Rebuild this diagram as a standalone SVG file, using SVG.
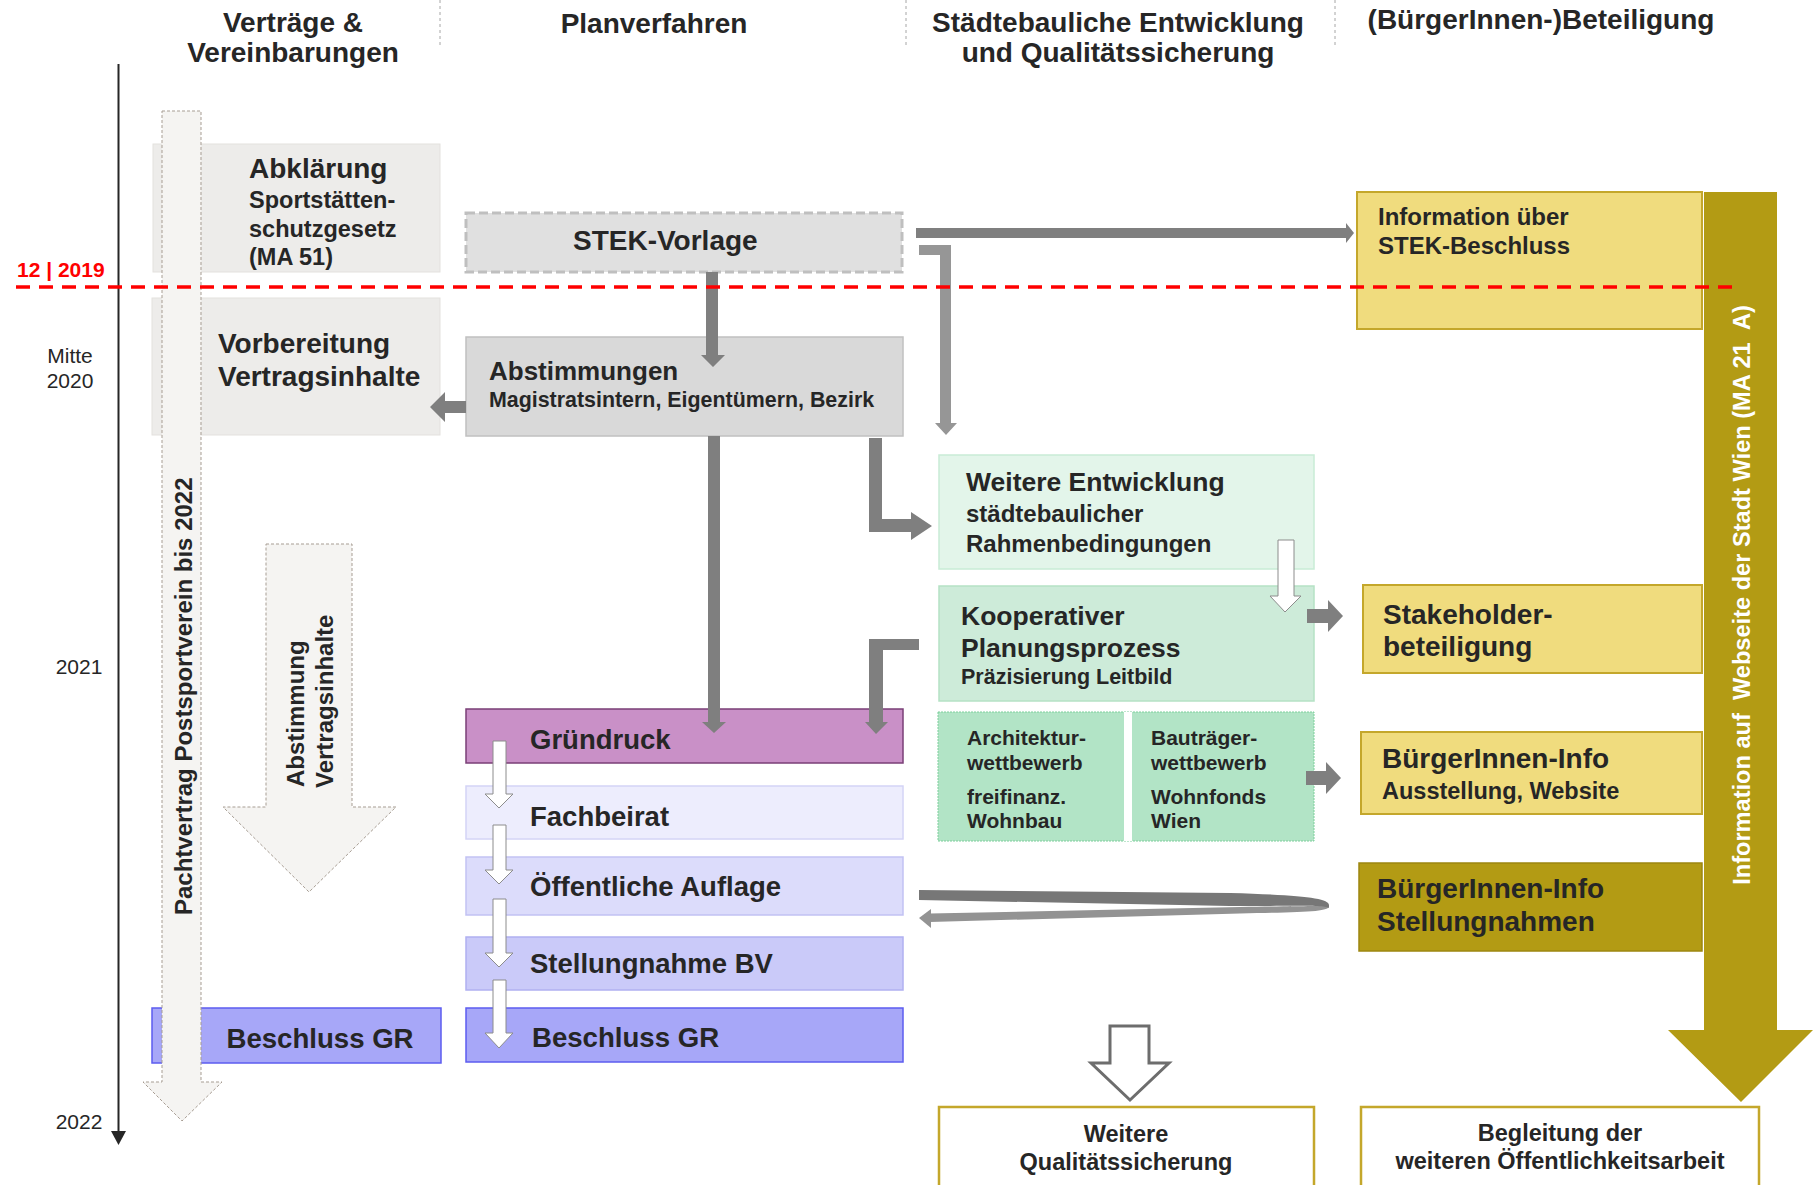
<svg xmlns="http://www.w3.org/2000/svg" width="1816" height="1185" viewBox="0 0 1816 1185">
<style>
text{font-family:"Liberation Sans",Arial,sans-serif;fill:#262626}
.b{font-weight:bold}
.h{font-weight:bold;font-size:28px;text-anchor:middle}
.yr{font-size:21px;text-anchor:middle}
.div{stroke:#a6a6a6;stroke-width:1;stroke-dasharray:3 3;fill:none}
.ar{fill:#7f7f7f}
.arl{fill:#969696}
.hol{fill:#fff;stroke:#8c8c8c;stroke-width:1}
.dot{fill:#f5f4f2;stroke:#a79d93;stroke-width:1;stroke-dasharray:3 2}
.gray{fill:#edecea;stroke:#e3e1de;stroke-width:1}
.yel{fill:#f0dc7e;stroke:#c4a72b;stroke-width:2}
.out{fill:#fff;stroke:#c4a72b;stroke-width:2.5}
</style>

<g id="headers">
<line class="div" x1="440" y1="0" x2="440" y2="48"/>
<line class="div" x1="906" y1="0" x2="906" y2="48"/>
<line class="div" x1="1335" y1="0" x2="1335" y2="48"/>
<text class="h" x="293" y="32">Verträge &amp;</text>
<text class="h" x="293" y="62">Vereinbarungen</text>
<text class="h" x="654" y="33">Planverfahren</text>
<text class="h" x="1118" y="32">Städtebauliche Entwicklung</text>
<text class="h" x="1118" y="62">und Qualitätssicherung</text>
<text class="h" x="1541" y="29">(BürgerInnen-)Beteiligung</text>
</g>

<g id="timeline">
<line x1="118.5" y1="64" x2="118.5" y2="1133" stroke="#262626" stroke-width="2"/>
<polygon points="111,1131 126,1131 118.5,1145" fill="#262626"/>
<text class="yr" x="70" y="363">Mitte</text>
<text class="yr" x="70" y="388">2020</text>
<text class="yr" x="79" y="674">2021</text>
<text class="yr" x="79" y="1129">2022</text>
</g>

<g id="abklaerung">
<rect class="gray" x="153" y="144" width="287" height="128"/>
<text class="b" x="249" y="178" font-size="28">Abklärung</text>
<text class="b" x="249" y="208" font-size="23.5">Sportstätten-</text>
<text class="b" x="249" y="237" font-size="23.5">schutzgesetz</text>
<text class="b" x="249" y="265" font-size="23.5">(MA 51)</text>
</g>

<g id="vorbereitung">
<rect class="gray" x="152" y="298" width="288" height="137"/>
<text class="b" x="218" y="353" font-size="28">Vorbereitung</text>
<text class="b" x="218" y="386" font-size="28">Vertragsinhalte</text>
</g>

<g id="beschluss-gr-links">
<rect x="152" y="1008" width="289" height="55" fill="#a7a7f8" stroke="#5c5cf0" stroke-width="1.5"/>
<text class="b" x="320" y="1048" font-size="27.6" text-anchor="middle">Beschluss GR</text>
</g>

<g id="pachtvertrag">
<polygon class="dot" points="162,111 201,111 201,1082 222,1082 182,1121 143,1082 162,1082"/>
<text class="b" font-size="24" transform="translate(192,915) rotate(-90)">Pachtvertrag Postsportverein bis 2022</text>
</g>

<g id="abstimmung-vertragsinhalte">
<polygon class="dot" points="266,544 352,544 352,807 396,807 309,892 223,807 266,807"/>
<text class="b" font-size="24" transform="translate(304,787) rotate(-90)">Abstimmung</text>
<text class="b" font-size="24" transform="translate(333,788) rotate(-90)">Vertragsinhalte</text>
</g>

<g id="stek-vorlage">
<rect x="466" y="213" width="436" height="59" fill="#e0e0e0" stroke="#bfbfbf" stroke-width="3" stroke-dasharray="9 4"/>
<text class="b" x="573" y="250" font-size="28">STEK-Vorlage</text>
</g>

<g id="abstimmungen">
<rect x="466" y="337" width="437" height="99" fill="#d9d9d9" stroke="#c0c0c0" stroke-width="1.5"/>
<text class="b" x="489" y="380" font-size="26">Abstimmungen</text>
<text class="b" x="489" y="407" font-size="21.4">Magistratsintern, Eigentümern, Bezirk</text>
</g>

<g id="gruendruck">
<rect x="466" y="709" width="437" height="54" fill="#c990c7" stroke="#7a3f77" stroke-width="1.5"/>
<text class="b" x="530" y="749" font-size="27.5">Gründruck</text>
</g>
<g id="fachbeirat">
<rect x="466" y="786" width="437" height="53" fill="#ededfd" stroke="#d4d4f6" stroke-width="1.5"/>
<text class="b" x="530" y="826" font-size="27.5">Fachbeirat</text>
</g>
<g id="oeffentliche-auflage">
<rect x="466" y="857" width="437" height="58" fill="#dcdcfb" stroke="#c2c2f3" stroke-width="1.5"/>
<text class="b" x="530" y="896" font-size="27.5">Öffentliche Auflage</text>
</g>
<g id="stellungnahme-bv">
<rect x="466" y="937" width="437" height="53" fill="#cacaf9" stroke="#b0b0f1" stroke-width="1.5"/>
<text class="b" x="530" y="973" font-size="27.5">Stellungnahme BV</text>
</g>
<g id="beschluss-gr-rechts">
<rect x="466" y="1008" width="437" height="54" fill="#a7a7f8" stroke="#5c5cf0" stroke-width="1.5"/>
<text class="b" x="532" y="1047" font-size="27.6">Beschluss GR</text>
</g>

<g id="weitere-entwicklung">
<rect x="939" y="455" width="375" height="114" fill="#e3f5ea" stroke="#c9ecd6" stroke-width="1.5"/>
<text class="b" x="966" y="491" font-size="26.5">Weitere Entwicklung</text>
<text class="b" x="966" y="522" font-size="24">städtebaulicher</text>
<text class="b" x="966" y="552" font-size="24">Rahmenbedingungen</text>
</g>

<g id="kooperativer-planungsprozess">
<rect x="939" y="586" width="375" height="115" fill="#cdebd9" stroke="#b5e2c5" stroke-width="1.5"/>
<text class="b" x="961" y="625" font-size="26.5">Kooperativer</text>
<text class="b" x="961" y="657" font-size="26.5">Planungsprozess</text>
<text class="b" x="961" y="684" font-size="21.5">Präzisierung Leitbild</text>
</g>

<g id="wettbewerbe">
<rect x="938" y="712" width="376" height="129" fill="#b2e4c6" stroke="#7ccf9b" stroke-width="1" stroke-dasharray="2 1"/>
<rect x="1124" y="712" width="8" height="129" fill="#fff"/>
<text class="b" x="967" y="745" font-size="21">Architektur-</text>
<text class="b" x="967" y="770" font-size="21">wettbewerb</text>
<text class="b" x="967" y="804" font-size="21">freifinanz.</text>
<text class="b" x="967" y="828" font-size="21">Wohnbau</text>
<text class="b" x="1151" y="745" font-size="21">Bauträger-</text>
<text class="b" x="1151" y="770" font-size="21">wettbewerb</text>
<text class="b" x="1151" y="804" font-size="21">Wohnfonds</text>
<text class="b" x="1151" y="828" font-size="21">Wien</text>
</g>

<g id="weitere-qualitaetssicherung">
<rect class="out" x="939" y="1107" width="375" height="85"/>
<text class="b" x="1126" y="1142" font-size="23.5" text-anchor="middle">Weitere</text>
<text class="b" x="1126" y="1170" font-size="23.5" text-anchor="middle">Qualitätssicherung</text>
</g>

<g id="information-webseite">
<polygon points="1704,192 1777,192 1777,1030 1813,1030 1741,1102 1668,1030 1704,1030" fill="#b39b14"/>
<text class="b" font-size="23.6" text-anchor="middle" style="fill:#fff;white-space:pre" transform="translate(1750,595) rotate(-90)">Information auf  Webseite der Stadt Wien (MA 21  A)</text>
</g>

<g id="information-stek">
<rect class="yel" x="1357" y="192" width="345" height="137"/>
<text class="b" x="1378" y="225" font-size="24">Information über</text>
<text class="b" x="1378" y="254" font-size="24">STEK-Beschluss</text>
</g>

<g id="stakeholderbeteiligung">
<rect class="yel" x="1363" y="585" width="339" height="88"/>
<text class="b" x="1383" y="624" font-size="28">Stakeholder-</text>
<text class="b" x="1383" y="656" font-size="28">beteiligung</text>
</g>

<g id="buergerinnen-info-ausstellung">
<rect class="yel" x="1361" y="732" width="341" height="82"/>
<text class="b" x="1382" y="768" font-size="28">BürgerInnen-Info</text>
<text class="b" x="1382" y="799" font-size="23.5">Ausstellung, Website</text>
</g>

<g id="buergerinnen-info-stellungnahmen">
<rect x="1359" y="863" width="343" height="88" fill="#b39b14" stroke="#9d8711" stroke-width="1.5"/>
<text class="b" x="1377" y="898" font-size="28">BürgerInnen-Info</text>
<text class="b" x="1377" y="931" font-size="28">Stellungnahmen</text>
</g>

<g id="begleitung">
<rect class="out" x="1361" y="1107" width="398" height="85"/>
<text class="b" x="1560" y="1141" font-size="23.5" text-anchor="middle">Begleitung der</text>
<text class="b" x="1560" y="1169" font-size="23.5" text-anchor="middle">weiteren Öffentlichkeitsarbeit</text>
</g>

<g id="connectors">
<polygon class="ar" points="706,272 718,272 718,355 725,355 713,367 701,355 706,355"/>
<polygon class="ar" points="916,228 1346,228 1346,223 1354,233 1346,243 1346,238 916,238"/>
<polygon class="arl" points="919,245 951,245 951,423 957,423 946,435 935,423 940,423 940,255 919,255"/>
<polygon class="ar" points="466,401 466,413 445,413 445,422 430,407 445,392 445,401"/>
<polygon class="ar" points="869,438 882,438 882,519 911,519 911,512 932,526 911,540 911,532 869,532"/>
<polygon class="ar" points="708,436 720,436 720,722 726,722 714,733 702,722 708,722"/>
<polygon class="ar" points="919,639 919,650 883,650 883,722 888,722 876,734 865,722 869,722 869,639"/>
<polygon class="hol" points="1278,540 1294,540 1294,596 1301,596 1285,612 1270,596 1278,596"/>
<polygon class="ar" points="1307,609 1328,609 1328,600 1343,616 1328,632 1328,623 1307,623"/>
<polygon class="ar" points="1306,771 1326,771 1326,762 1341,778 1326,794 1326,785 1306,785"/>
<polygon class="hol" points="493,741 506,741 506,794 513,794 499,808 485,794 493,794"/>
<polygon class="hol" points="493,825 506,825 506,870 513,870 499,884 485,870 493,870"/>
<polygon class="hol" points="493,899 506,899 506,953 513,953 499,967 485,953 493,953"/>
<polygon class="hol" points="493,980 506,980 506,1033 513,1033 499,1048 485,1033 493,1033"/>
<path d="M1329,906 C1329,912 1305,912 1240,913.5 L930,922 L930,913.5 L1240,907 C1300,906 1322,906 1329,906 Z" fill="#939393"/>
<polygon points="931,909 919,918 931,928" fill="#939393"/>
<path d="M919,890 L1230,893 C1300,895 1329,898 1329,905 L1329,908 C1322,905 1300,906 1230,906 L919,900 Z" fill="#777"/>
<polygon points="1110,1026 1149,1026 1149,1063 1169,1063 1130,1100 1091,1063 1110,1063" fill="#fff" stroke="#6d6d6d" stroke-width="3"/>
</g>

<g id="marker-12-2019">
<line x1="16" y1="287" x2="1733" y2="287" stroke="#ff0000" stroke-width="3.5" stroke-dasharray="14 9"/>
<text class="b" x="17" y="277" font-size="21" style="fill:#ff0000">12 | 2019</text>
</g>
</svg>
